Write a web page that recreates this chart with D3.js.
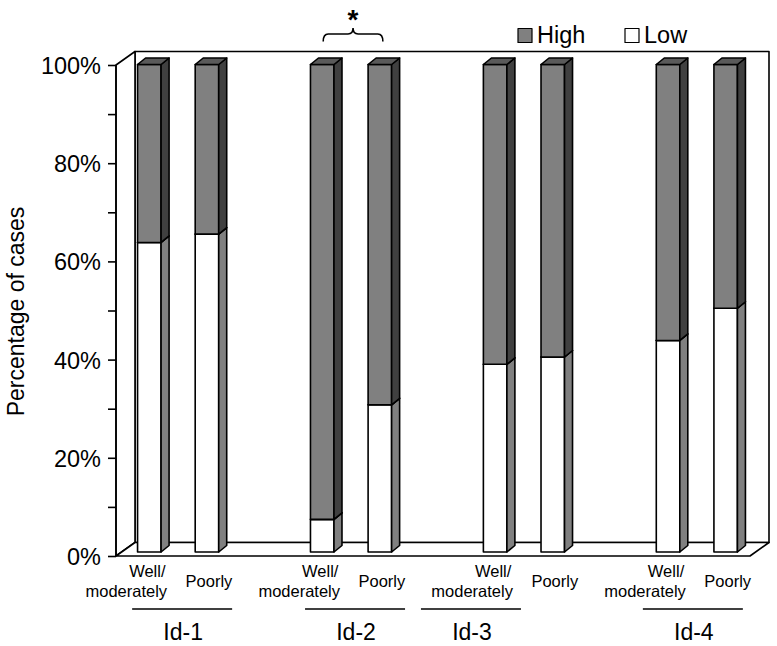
<!DOCTYPE html>
<html><head><meta charset="utf-8">
<script src="https://cdn.jsdelivr.net/npm/d3@7"></script>
<style>body{margin:0;background:#fff}text{font-family:"Liberation Sans",Arial,Helvetica,sans-serif;fill:#000}</style>
</head><body><svg id="c" width="777" height="646"></svg>
<script>
const groups = ["Id-1","Id-2","Id-3","Id-4"];
const grades = ["Well/\nmoderately","Poorly"];
const series = ["High","Low"];
const lowValues  = [63.5, 65.2, 6.7, 30.2, 38.5, 40.0, 43.4, 50.0];
const highValues = [36.5, 34.8, 93.3, 69.8, 61.5, 60.0, 56.6, 50.0];
const yTicks = [0,10,20,30,40,50,60,70,80,90,100];
const yLabelTicks = [0,20,40,60,80,100];
const significantGroup = "Id-2";

const svg = d3.select("#c");
const colors = {High:{front:"#808080",side:"#404040",top:"#5a5a5a"}, Low:{front:"#ffffff",side:"#808080",top:"#bbbbbb"}};

// slots: each group has 2 bars, followed by an empty slot
const slots = [];
groups.forEach((g,gi)=>{ grades.forEach(gr=>slots.push(g+"|"+gr)); if(gi<groups.length-1) slots.push("gap"+gi); });
const x = d3.scaleBand().domain(slots).range([116,750]).paddingInner(0.592).paddingOuter(0.296);
const y = d3.scaleLinear().domain([0,100]).range([556,65]);
const D = {x:19, y:-13.5};       // depth of chart box
const barOff = {x:4.5, y:-4};    // bar front face offset into box
const bd = {x:8, y:-6.5};        // bar depth
const yBar = d3.scaleLinear().domain([0,100]).range([y(0)+barOff.y, y(100)-0.5]);

const x0 = x.range()[0], x1 = x.range()[1];
const stroke = {stroke:"#000","stroke-width":1.6,"stroke-linejoin":"round"};
function poly(g, pts, fill){ const p=g.append("polygon").attr("points",pts.map(p=>p.join(",")).join(" ")).attr("fill",fill); for(const k in stroke)p.attr(k,stroke[k]); return p; }

const box = svg.append("g");
poly(box, [[x0+D.x,y(100)+D.y],[x1+D.x,y(100)+D.y],[x1+D.x,y(0)+D.y],[x0+D.x,y(0)+D.y]], "#fff");
poly(box, [[x0,y(100)],[x0+D.x,y(100)+D.y],[x0+D.x,y(0)+D.y],[x0,y(0)]], "#fff");
poly(box, [[x0,y(0)],[x0+D.x,y(0)+D.y],[x1+D.x,y(0)+D.y],[x1,y(0)]], "#fff");

const ax = svg.append("g").attr("transform",`translate(${x0},0)`)
  .call(d3.axisLeft(y).tickValues(yTicks).tickSize(8).tickPadding(7)
    .tickFormat(d=> yLabelTicks.includes(d) ? d+"%" : ""));
ax.select(".domain").remove();
ax.selectAll(".tick line").attr("stroke","#000").attr("stroke-width",1.6);
ax.selectAll(".tick text").attr("font-size",23.5).attr("fill","#000").attr("dy","0.36em");
svg.append("line").attr("x1",x0).attr("x2",x0).attr("y1",y(100)).attr("y2",y(0)).attr("stroke","#000").attr("stroke-width",1.6);

svg.append("text").attr("transform",`translate(24,${(y(0)+y(100))/2+1}) rotate(-90)`)
  .attr("text-anchor","middle").attr("font-size",23).text("Percentage of cases");

const bw = x.bandwidth();
const bars = [];
groups.forEach((g,gi)=>grades.forEach((gr,ji)=>{ const i=gi*2+ji; bars.push({key:g+"|"+gr, group:g, grade:gr, low:lowValues[i], high:highValues[i]}); }));
const barG = svg.append("g");
bars.forEach(b=>{
  const fx = x(b.key)+barOff.x;
  const segs = [{s:"Low",v0:0,v1:b.low},{s:"High",v0:b.low,v1:b.low+b.high}];
  segs.forEach(sg=>{
    const c = colors[sg.s];
    const yt = yBar(sg.v1), yb = yBar(sg.v0);
    poly(barG, [[fx,yt],[fx+bw,yt],[fx+bw,yb],[fx,yb]], c.front);
    poly(barG, [[fx+bw,yt],[fx+bw+bd.x,yt+bd.y],[fx+bw+bd.x,yb+bd.y],[fx+bw,yb]], c.side);
    poly(barG, [[fx,yt],[fx+bd.x,yt+bd.y],[fx+bw+bd.x,yt+bd.y],[fx+bw,yt]], c.top);
  });
  b.cx = fx + bw/2;
});

const lab = svg.append("g");
bars.forEach(b=>{
  const lines = b.grade.split("\n");
  if(lines.length===2){
    lab.append("text").attr("x",b.cx-2).attr("y",577).attr("text-anchor","middle").attr("font-size",16.5).text(lines[0]);
    lab.append("text").attr("x",b.cx-23).attr("y",597).attr("text-anchor","middle").attr("font-size",16.5).text(lines[1]);
  } else {
    lab.append("text").attr("x",b.cx+2).attr("y",587).attr("text-anchor","middle").attr("font-size",16.5).text(lines[0]);
  }
});
// group labels with underline (hand-placed shifts as in the original figure)
const groupShift = [4, 4, -53, -4];
groups.forEach((g,gi)=>{
  const bs = bars.filter(b=>b.group===g);
  const m = (bs[0].cx+bs[1].cx)/2 + groupShift[gi];
  lab.append("line").attr("x1",m-50).attr("x2",m+50).attr("y1",609).attr("y2",609).attr("stroke","#000").attr("stroke-width",1.6);
  lab.append("text").attr("x",m+1).attr("y",640).attr("text-anchor","middle").attr("font-size",23).text(g);
});

{
  const bs = bars.filter(b=>b.group===significantGroup);
  const a = bs[0].cx+1, c2 = bs[1].cx+3, m = (a+c2)/2;
  const yb = 41.5, yl = 34, yp = 28;
  svg.append("path").attr("d",`M${a},${yb} Q${a},${yl} ${a+5},${yl} L${m-5},${yl} Q${m},${yl} ${m},${yp} Q${m},${yl} ${m+5},${yl} L${c2-5},${yl} Q${c2},${yl} ${c2},${yb}`)
    .attr("fill","none").attr("stroke","#000").attr("stroke-width",1.6);
  svg.append("text").attr("x",m).attr("y",29).attr("text-anchor","middle").attr("font-size",28).attr("font-weight","bold").text("*");
}

const lg = svg.append("g");
const legendX = [518, 625];
series.forEach((s,i)=>{
  const r = lg.append("rect").attr("x",legendX[i]).attr("y",28.5).attr("width",14).attr("height",14).attr("fill",colors[s].front);
  for(const k in stroke) r.attr(k,stroke[k]);
  r.attr("stroke-width",1.2);
  lg.append("text").attr("x",legendX[i]+19).attr("y",43).attr("font-size",23.5).text(s);
});
</script></body></html>
